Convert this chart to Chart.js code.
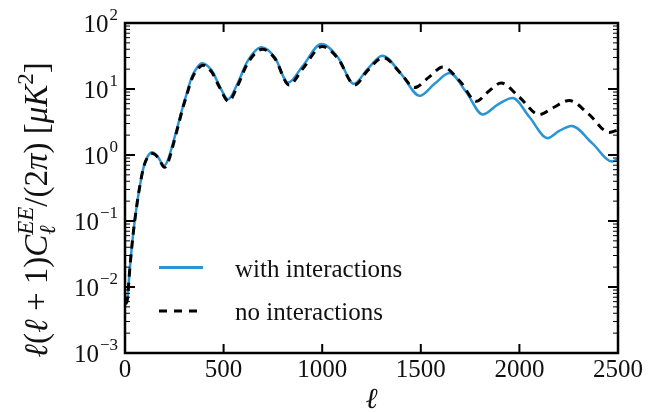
<!DOCTYPE html>
<html>
<head>
<meta charset="utf-8">
<script src="https://cdn.jsdelivr.net/npm/chart.js@4/dist/chart.umd.min.js"></script>
<style>
    html, body { margin: 0; padding: 0; background: #fff; }
    #wrap { width: 651px; height: 412px; }
</style>
</head>
<body>
<div id="wrap"><canvas id="EEChart" width="651" height="412"></canvas></div>
<script>
// multipoles and EE band power, with interactions
var ellWith = [3, 12, 25, 42, 59, 75, 93, 115, 138, 165, 199, 218, 243, 270, 292, 315, 338, 365, 390, 440, 480, 522, 570, 620, 692, 760, 827, 900, 996, 1080, 1160, 1230, 1305, 1400, 1494, 1570, 1646, 1730, 1814, 1890, 1966, 2050, 2143, 2200, 2265, 2370, 2470, 2500];
var clWith = [0.0055, 0.0065, 0.02, 0.066, 0.166, 0.335, 0.63, 0.95, 1.1, 0.95, 0.69, 0.85, 1.5, 2.95, 5.2, 8.9, 15, 21, 24.5, 19, 11, 7, 12, 26, 43, 30, 12.5, 22, 48, 30, 12, 20, 32, 17, 7.9, 12, 17.5, 9, 4.1, 5.8, 7.3, 3.8, 1.8, 2.3, 2.75, 1.5, 0.8, 0.86];

// same spectrum without interactions
var ellNo = [3, 12, 25, 42, 59, 75, 93, 115, 140, 167, 201, 220, 245, 270, 292, 315, 340, 368, 395, 440, 480, 525, 570, 620, 697, 760, 832, 900, 1000, 1080, 1165, 1230, 1310, 1400, 1468, 1540, 1612, 1700, 1782, 1840, 1907, 2000, 2101, 2170, 2253, 2350, 2456, 2500];
var clNo = [0.0055, 0.0065, 0.02, 0.066, 0.166, 0.335, 0.63, 0.93, 1.05, 0.92, 0.65, 0.8, 1.45, 2.8, 5, 8.5, 14.5, 20, 23, 18, 10.5, 6.5, 11, 24, 40, 29, 11.5, 20, 44, 29, 11.5, 19, 30, 17, 10.5, 15, 21.5, 13, 6.5, 9, 12.3, 7.5, 4.1, 5.2, 6.7, 4.2, 2.2, 2.4];

var xTickValues = [0, 500, 1000, 1500, 2000, 2500];
var yTickExponents = [-3, -2, -1, 0, 1, 2];

var seriesNames = ['with interactions', 'no interactions'];
var blue = '#2b94d4';
var serif = '"Liberation Serif", "DejaVu Serif", serif';

function toPoints(xs, ys) {
    return xs.map(function (x, i) { return { x: x, y: ys[i] }; });
}

/*
 * draws a list of text runs left to right from (x, y);
 * a run with sup/sub puts both small strings at the same x
 */
function drawRuns(ctx, runs, x, y, measureOnly) {
    var cx = x;
    runs.forEach(function (r) {
        ctx.font = (r.italic ? 'italic ' : '') + r.size + 'px ' + serif;
        if (r.sup !== undefined) {
            var w1 = ctx.measureText(r.sup).width;
            var w2 = ctx.measureText(r.sub).width;
            if (!measureOnly) {
                ctx.fillText(r.sup, cx, y - r.up);
                ctx.fillText(r.sub, cx, y + r.down);
            }
            cx += Math.max(w1, w2);
        } else {
            if (!measureOnly) ctx.fillText(r.t, cx, y - (r.up || 0));
            cx += ctx.measureText(r.t).width;
        }
    });
    return cx - x;
}

// frame, inward ticks, labels and legend in the classic style
var axesPlugin = {
    id: 'classicAxes',
    afterDatasetsDraw: function (chart) {
        var ctx = chart.ctx;
        var a = chart.chartArea;
        var xs = chart.scales.x;
        var ys = chart.scales.y;

        ctx.save();
        ctx.strokeStyle = '#000';
        ctx.fillStyle = '#111';

        // x ticks top and bottom
        ctx.lineWidth = 2;
        xTickValues.forEach(function (v) {
            var px = xs.getPixelForValue(v);
            ctx.beginPath();
            ctx.moveTo(px, a.bottom); ctx.lineTo(px, a.bottom - 9);
            ctx.moveTo(px, a.top); ctx.lineTo(px, a.top + 9);
            ctx.stroke();
        });

        // y major and minor ticks on both sides
        yTickExponents.forEach(function (e) {
            var py = ys.getPixelForValue(Math.pow(10, e));
            ctx.lineWidth = 2;
            ctx.beginPath();
            ctx.moveTo(a.left, py); ctx.lineTo(a.left + 10, py);
            ctx.moveTo(a.right, py); ctx.lineTo(a.right - 10, py);
            ctx.stroke();
            if (e < 2) {
                ctx.lineWidth = 1;
                for (var m = 2; m < 10; m++) {
                    var pm = ys.getPixelForValue(m * Math.pow(10, e));
                    ctx.beginPath();
                    ctx.moveTo(a.left, pm); ctx.lineTo(a.left + 5, pm);
                    ctx.moveTo(a.right, pm); ctx.lineTo(a.right - 5, pm);
                    ctx.stroke();
                }
            }
        });

        // frame
        ctx.lineWidth = 2.5;
        ctx.strokeRect(a.left, a.top, a.right - a.left, a.bottom - a.top);

        // x tick labels
        ctx.textBaseline = 'alphabetic';
        ctx.textAlign = 'center';
        ctx.font = '25px ' + serif;
        xTickValues.forEach(function (v) {
            ctx.fillText(String(v), xs.getPixelForValue(v), a.bottom + 24);
        });

        // y tick labels as powers of ten
        ctx.textAlign = 'left';
        yTickExponents.forEach(function (e) {
            var py = ys.getPixelForValue(Math.pow(10, e));
            var exp = (e < 0 ? '\u2212' : '') + Math.abs(e);
            ctx.font = '17px ' + serif;
            var we = ctx.measureText(exp).width;
            ctx.font = '25px ' + serif;
            var wb = ctx.measureText('10').width;
            var x0 = a.left - 8 - we - wb;
            ctx.fillText('10', x0, py + 8.5);
            ctx.font = '17px ' + serif;
            ctx.fillText(exp, x0 + wb + 1, py - 3);
        });

        // x axis title
        ctx.textAlign = 'center';
        ctx.font = 'italic 29px ' + serif;
        ctx.fillText('\u2113', (a.left + a.right) / 2, 408);

        // y axis title
        var runs = [
            { t: '\u2113', italic: true, size: 33 },
            { t: '(', size: 33 },
            { t: '\u2113', italic: true, size: 33 },
            { t: ' + ', size: 33 },
            { t: '1)', size: 33 },
            { t: 'C', italic: true, size: 33 },
            { sup: 'EE', sub: '\u2113', italic: true, size: 23, up: 14, down: 8 },
            { t: '/(2', size: 33 },
            { t: '\u03c0', italic: true, size: 33 },
            { t: ') [', size: 33 },
            { t: '\u03bcK', italic: true, size: 33 },
            { t: '2', size: 23, up: 14 },
            { t: ']', size: 33 }
        ];
        ctx.textAlign = 'left';
        var tw = drawRuns(ctx, runs, 0, 0, true);
        ctx.save();
        ctx.translate(47, 210);
        ctx.rotate(-Math.PI / 2);
        drawRuns(ctx, runs, -tw / 2, 0, false);
        ctx.restore();

        // legend
        ctx.lineWidth = 3;
        ctx.strokeStyle = blue;
        ctx.beginPath();
        ctx.moveTo(159, 267.5); ctx.lineTo(203, 267.5);
        ctx.stroke();
        ctx.strokeStyle = '#000';
        ctx.setLineDash([8, 7]);
        ctx.beginPath();
        ctx.moveTo(159, 311); ctx.lineTo(203, 311);
        ctx.stroke();
        ctx.setLineDash([]);
        ctx.font = '25px ' + serif;
        ctx.fillStyle = '#111';
        ctx.fillText(seriesNames[0], 235, 276.5);
        ctx.fillText(seriesNames[1], 235, 320);

        ctx.restore();
    }
};

var chart = new Chart(document.getElementById('EEChart'), {
    type: 'line',
    data: {
        datasets: [{
            label: seriesNames[0],
            data: toPoints(ellWith, clWith),
            borderColor: blue,
            borderWidth: 2.5,
            pointRadius: 0,
            cubicInterpolationMode: 'monotone',
            fill: false,
            order: 2
        }, {
            label: seriesNames[1],
            data: toPoints(ellNo, clNo),
            borderColor: '#000',
            borderWidth: 3,
            borderDash: [8, 6],
            pointRadius: 0,
            cubicInterpolationMode: 'monotone',
            fill: false,
            order: 1
        }]
    },
    options: {
        responsive: false,
        animation: false,
        events: [],
        layout: { padding: { left: 125, right: 33, top: 23, bottom: 59 } },
        plugins: {
            legend: { display: false },
            tooltip: { enabled: false }
        },
        scales: {
            x: { type: 'linear', min: 0, max: 2500, display: false },
            y: { type: 'logarithmic', min: 1e-3, max: 1e2, display: false }
        }
    },
    plugins: [axesPlugin]
});
</script>
</body>
</html>
